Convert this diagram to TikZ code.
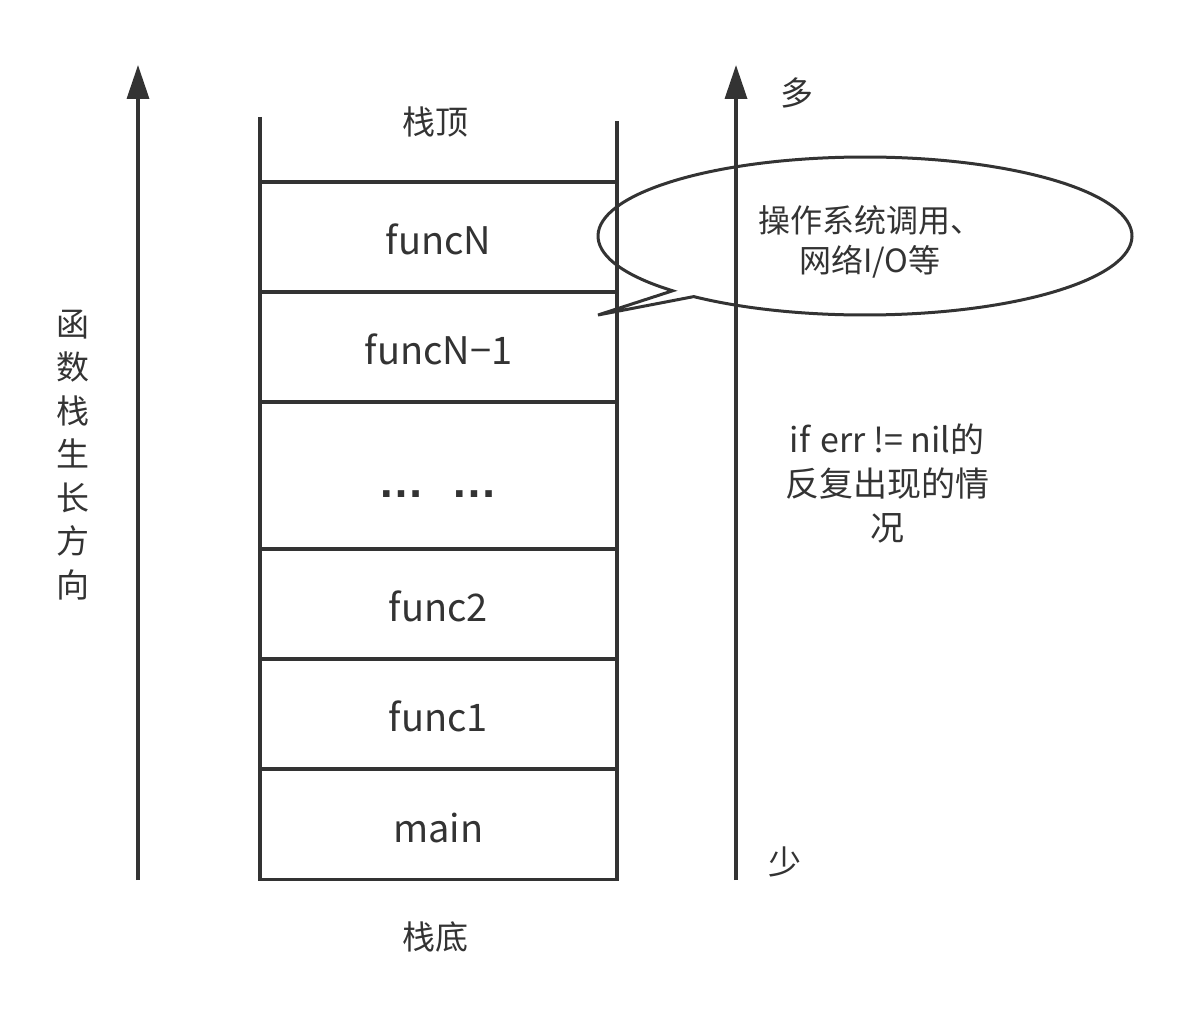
\documentclass[tikz,border=0pt]{standalone}
\usepackage{fontspec}
\setmainfont{Noto Sans CJK SC}
\newfontfamily\dotfont{Liberation Sans}
\usetikzlibrary{arrows.meta}
\definecolor{ink}{HTML}{333333}
\tikzset{
  wall/.style={draw=ink, line width=3.5pt},
  axisline/.style={draw=ink, line width=3.5pt, -{Triangle[length=34pt,width=22pt]}},
  cell/.style={draw=ink, line width=3.5pt, minimum width=357pt, minimum height=110pt, inner sep=0pt, text height=35pt, text depth=0pt, font=\fontsize{38}{44}\selectfont, text=ink},
  lbl/.style={font=\fontsize{33}{40}\selectfont, text=ink, inner sep=0pt},
  small/.style={font=\fontsize{32}{40}\selectfont, text=ink, inner sep=0pt, align=center}
}
\begin{document}
\begin{tikzpicture}[x=1pt,y=1pt]
\useasboundingbox (0,0) rectangle (1183,-1024);
% left growth axis
\coordinate (laxB) at (138,-880);
\coordinate (laxT) at (138,-65);
\draw[axisline] (laxB) -- (laxT);
\node[lbl, align=center, font=\fontsize{33}{43.5}\selectfont] (grow) at (73,-455) {函\\数\\栈\\生\\长\\方\\向};
% stack walls
\coordinate (lwT) at (260,-117);
\coordinate (lwB) at (260,-182);
\coordinate (rwT) at (617,-121);
\coordinate (rwB) at (617,-182);
\draw[wall] (lwT) -- (lwB);
\draw[wall] (rwT) -- (rwB);
% cells
\node[cell] (fN) at (438.5,-237) {funcN};
\node[cell] (fN1) at (438.5,-347) {funcN−1};
\node[cell, minimum height=147pt] (dots) at (438.5,-475.5) {};
\node[text=ink, font=\dotfont\bfseries\fontsize{46}{50}\selectfont, inner sep=0pt, anchor=base] (dotsl) at (438,-497) {…\hspace{0.6em}…};
\node[cell] (f2) at (438.5,-604) {func2};
\node[cell] (f1) at (438.5,-714) {func1};
\node[cell] (fm) at (438.5,-824.5) {main};
\node[lbl] (top) at (435,-122) {栈顶};
\node[lbl] (bot) at (435,-937) {栈底};
% right axis
\coordinate (raxB) at (736,-880);
\coordinate (raxT) at (736,-65);
\draw[axisline] (raxB) -- (raxT);
\node[lbl] (many) at (797,-93) {多};
\node[lbl] (few) at (785,-862) {少};
% callout
\coordinate (cc) at (865,-236);
\coordinate (tailtip) at (598,-315);
\draw[wall, line width=3pt, line join=miter] (cc) ++(230.1:267 and 79) arc[start angle=230.1, end angle=583.9, x radius=267, y radius=79] -- (tailtip) -- cycle;
\node[small] (callout) at (870,-242) {操作系统调用、\\网络I/O等};
% right text
\node[lbl, align=center, font=\fontsize{34}{44}\selectfont] (errtext) at (887,-484) {if\hspace{0.3em}err != nil的\\反复出现的情\\况};
\end{tikzpicture}
\end{document}
